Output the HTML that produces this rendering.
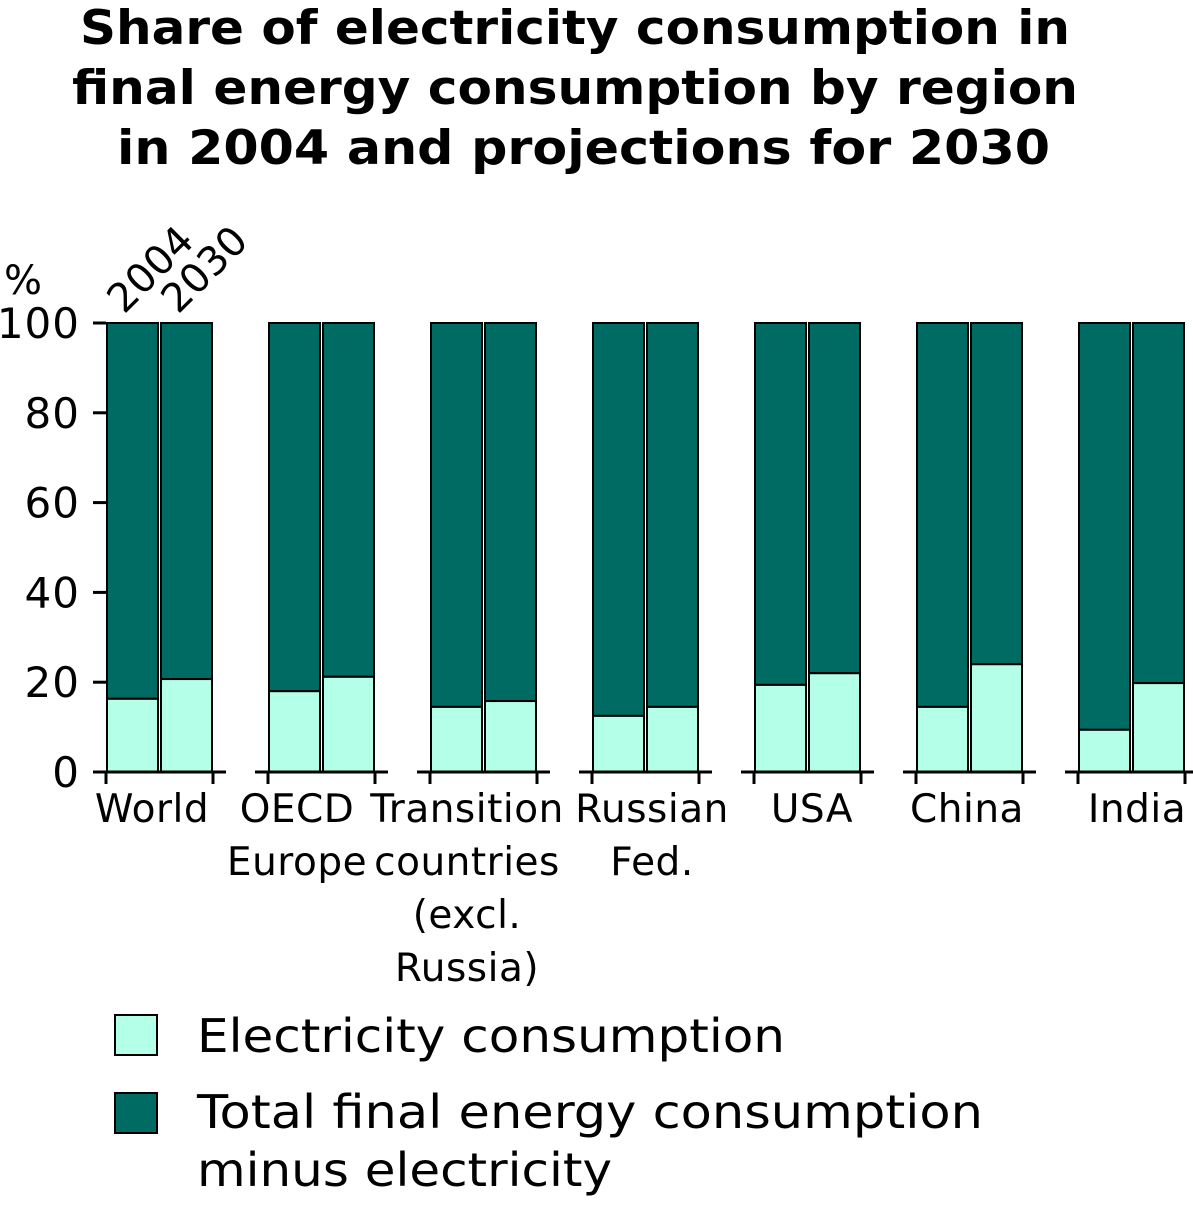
<!DOCTYPE html>
<html><head><meta charset="utf-8"><style>
body{margin:0;background:#fff;}
svg text{font-family:"DejaVu Sans","Liberation Sans",sans-serif;fill:#000;}
</style></head><body>
<svg id="chart" width="1193" height="1200" xmlns="http://www.w3.org/2000/svg">
<g font-weight="bold" font-size="47">
<text x="80" y="44" textLength="990" lengthAdjust="spacingAndGlyphs" style="font-weight:bold">Share of electricity consumption in</text>
<text x="72" y="104" textLength="1006" lengthAdjust="spacingAndGlyphs" style="font-weight:bold">final energy consumption by region</text>
<text x="117" y="164" textLength="933" lengthAdjust="spacingAndGlyphs" style="font-weight:bold">in 2004 and projections for 2030</text>
</g>
<text x="4" y="294" font-size="40">%</text>
<text transform="translate(124,315) rotate(-45)" font-size="40">2004</text>
<text transform="translate(178,315) rotate(-45)" font-size="40">2030</text>
<g id="bars"></g>
<g id="axes"></g>
<g>
<rect x="115" y="1015" width="42" height="40" fill="#b3ffe8" stroke="#000" stroke-width="2"/>
<text x="197" y="1052" font-size="46" textLength="588" lengthAdjust="spacingAndGlyphs">Electricity consumption</text>
<rect x="115" y="1093" width="42" height="40" fill="#006b63" stroke="#000" stroke-width="2"/>
<text x="197" y="1128" font-size="46" textLength="786" lengthAdjust="spacingAndGlyphs">Total final energy consumption</text>
<text x="197" y="1186" font-size="46" textLength="415" lengthAdjust="spacingAndGlyphs">minus electricity</text>
</g>
</svg>
<script>
const categories=[["World"],["OECD","Europe"],["Transition","countries","(excl.","Russia)"],["Russian","Fed."],["USA"],["China"],["India"]];
const elec2004=[16.3,18,14.5,12.5,19.4,14.5,9.4];
const elec2030=[20.7,21.2,15.8,14.5,22,24,19.8];
const yTicks=[0,20,40,60,80,100];
const labelShift=[46,29,37,60,58,51,59];
const NS="http://www.w3.org/2000/svg";
const y0=772,y100=323;
function y(v){return y0-(y0-y100)*v/100;}
function gx(i){return 106+i*162;}
const bars=document.getElementById('bars'),axes=document.getElementById('axes');
function mk(tag,attrs,parent){const e=document.createElementNS(NS,tag);for(const k in attrs)e.setAttribute(k,attrs[k]);parent.appendChild(e);return e;}
categories.forEach((c,i)=>{
  [elec2004[i],elec2030[i]].forEach((v,j)=>{
    const x=gx(i)+1+j*54,w=51;
    const t=mk('rect',{x:x,y:y(100),width:w,height:y(v)-y(100),fill:'#006b63',stroke:'#000','stroke-width':2},bars);
    
    
    const b=mk('rect',{x:x,y:y(v),width:w,height:y0-y(v),fill:'#b3ffe8',stroke:'#000','stroke-width':2},bars);
    
    
  });
  const l=mk('line',{x1:gx(i)-13,x2:gx(i)+120,y1:y0,y2:y0,stroke:'#000','stroke-width':3},axes);
  
  
  [gx(i),gx(i)+107].forEach(tx=>{
    const tk=mk('line',{x1:tx,x2:tx,y1:y0,y2:y0+12,stroke:'#000','stroke-width':3},axes);
    
    
  });
  c.forEach((s,k)=>{
    const t=mk('text',{x:gx(i)+labelShift[i],y:822+k*53,'font-size':39,'text-anchor':'middle','letter-spacing':'0.5'},axes);
    t.textContent=s;
    
    
  });
});
yTicks.forEach(v=>{
  const tk=mk('line',{x1:93,x2:106,y1:y(v),y2:y(v),stroke:'#000','stroke-width':3},axes);
  
  
  const t=mk('text',{x:80,y:y(v)+15,'font-size':42,'text-anchor':'end','letter-spacing':'1'},axes);
  t.textContent=v;
  
  
});
</script>
</body></html>
